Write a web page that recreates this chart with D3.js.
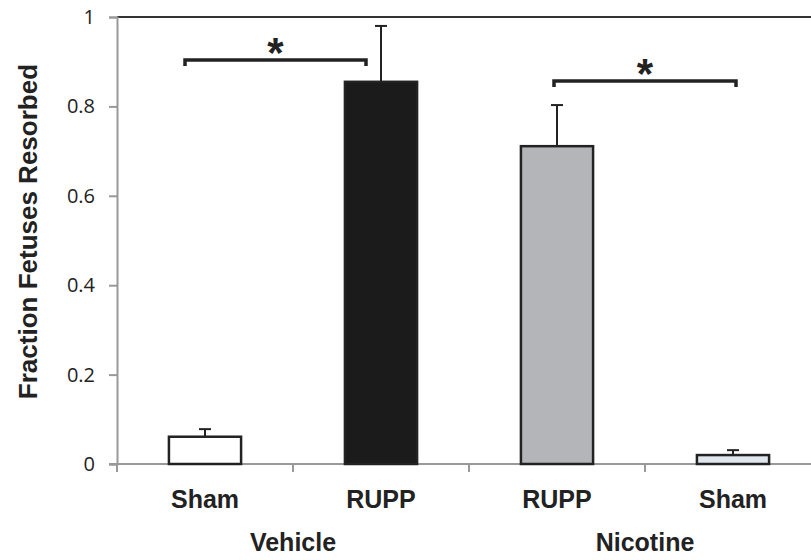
<!DOCTYPE html>
<html>
<head>
<meta charset="utf-8">
<script src="https://cdn.jsdelivr.net/npm/d3@7"></script>
<style>
  body { margin: 0; background: #fff; }
  svg { display: block; }
</style>
</head>
<body>
<svg id="chart" width="811" height="560"></svg>
<script>
// data
const categories = ["Sham", "RUPP", "RUPP", "Sham"];
const groups = ["Vehicle", "Nicotine"];
const values = [0.061, 0.855, 0.711, 0.020];
const errors = [0.017, 0.125, 0.092, 0.011];
const fills = ["#ffffff", "#1b1b1b", "#b4b5b8", "#dfe6ee"];
const yTicks = [0, 0.2, 0.4, 0.6, 0.8, 1];
// significance brackets: from bar index, to bar index, height
const brackets = [
    { from: 0, to: 1, y: 0.904 },
    { from: 2, to: 3, y: 0.857 }
];

const svg = d3.select("#chart");
const margin = { left: 117, top: 17 };
const plotH = 447;
const bandW = 176;
const boldFont = "'Liberation Sans', Arial, sans-serif";

const x = d3.scaleBand()
    .domain(d3.range(categories.length))
    .range([margin.left, margin.left + bandW * categories.length])
    .paddingInner(0.59)
    .paddingOuter(0.295);

const y = d3.scaleLinear()
    .domain([0, 1])
    .range([margin.top + plotH, margin.top]);

const y0 = y(0);

// top frame line
svg.append("line")
    .attr("x1", margin.left).attr("x2", 811)
    .attr("y1", y(1)).attr("y2", y(1))
    .attr("stroke", "#333").attr("stroke-width", 2);

// y axis
const yAxis = svg.append("g")
    .attr("transform", `translate(${margin.left},0)`)
    .call(d3.axisLeft(y).tickValues(yTicks).tickSize(8).tickPadding(14)
        .tickFormat(d => d === 0 || d === 1 ? d3.format("d")(d) : d3.format(".1f")(d)));
yAxis.select(".domain").attr("stroke", "#999").attr("stroke-width", 2);
yAxis.selectAll(".tick line").attr("stroke", "#999").attr("stroke-width", 2);
yAxis.selectAll(".tick text")
    .attr("fill", "#222")
    .style("font-family", "'Open Sans', 'Liberation Sans', sans-serif")
    .style("font-size", "20px");

// x axis baseline with category dividers
const divs = d3.range(categories.length + 1).map(i => margin.left + i * bandW);
svg.append("line")
    .attr("x1", margin.left - 8).attr("x2", 811)
    .attr("y1", y0).attr("y2", y0)
    .attr("stroke", "#999").attr("stroke-width", 2);
svg.append("g").selectAll("line")
    .data(divs)
    .enter().append("line")
    .attr("x1", d => d).attr("x2", d => d)
    .attr("y1", y0).attr("y2", y0 + 8)
    .attr("stroke", "#999").attr("stroke-width", 2);

// bars
svg.append("g").selectAll("rect")
    .data(values)
    .enter().append("rect")
    .attr("x", (d, i) => x(i))
    .attr("y", d => y(d))
    .attr("width", x.bandwidth())
    .attr("height", d => y0 - y(d))
    .attr("fill", (d, i) => fills[i])
    .attr("stroke", "#222")
    .attr("stroke-width", 2.5);

// error bars (upper only)
const err = svg.append("g").attr("stroke", "#222").attr("stroke-width", 2);
values.forEach((v, i) => {
    const cx = x(i) + x.bandwidth() / 2;
    err.append("line")
        .attr("x1", cx).attr("x2", cx)
        .attr("y1", y(v)).attr("y2", y(v + errors[i]));
    err.append("line")
        .attr("x1", cx - 6).attr("x2", cx + 6)
        .attr("y1", y(v + errors[i])).attr("y2", y(v + errors[i]));
});

// significance brackets
const br = svg.append("g");
brackets.forEach((b, k) => {
    const xa = x(b.from) + x.bandwidth() / 2 - (k === 0 ? 20 : 3);
    const xb = x(b.to) + x.bandwidth() / 2 - (k === 0 ? 15 : -3);
    const yy = y(b.y);
    br.append("path")
        .attr("d", `M${xa},${yy + 6}V${yy}H${xb}V${yy + 6}`)
        .attr("fill", "none")
        .attr("stroke", "#222")
        .attr("stroke-width", 3.5);
    br.append("text")
        .attr("x", (xa + xb) / 2)
        .attr("y", yy + 7)
        .attr("text-anchor", "middle")
        .attr("fill", "#222")
        .style("font-family", boldFont)
        .style("font-weight", "bold")
        .style("font-size", "42px")
        .text("*");
});

// category labels
svg.append("g").selectAll("text")
    .data(categories)
    .enter().append("text")
    .attr("x", (d, i) => x(i) + x.bandwidth() / 2)
    .attr("y", 508)
    .attr("text-anchor", "middle")
    .attr("fill", "#222")
    .style("font-family", boldFont)
    .style("font-weight", "bold")
    .style("font-size", "25px")
    .text(d => d);

// group labels
svg.append("g").selectAll("text")
    .data(groups)
    .enter().append("text")
    .attr("x", (d, i) => divs[1 + i * 2])
    .attr("y", 551)
    .attr("text-anchor", "middle")
    .attr("fill", "#222")
    .style("font-family", boldFont)
    .style("font-weight", "bold")
    .style("font-size", "25px")
    .text(d => d);

// y axis title
svg.append("text")
    .attr("transform", `translate(37,${y(0.52)}) rotate(-90)`)
    .attr("text-anchor", "middle")
    .attr("fill", "#222")
    .style("font-family", boldFont)
    .style("font-weight", "bold")
    .style("font-size", "26px")
    .text("Fraction Fetuses Resorbed");
</script>
</body>
</html>
